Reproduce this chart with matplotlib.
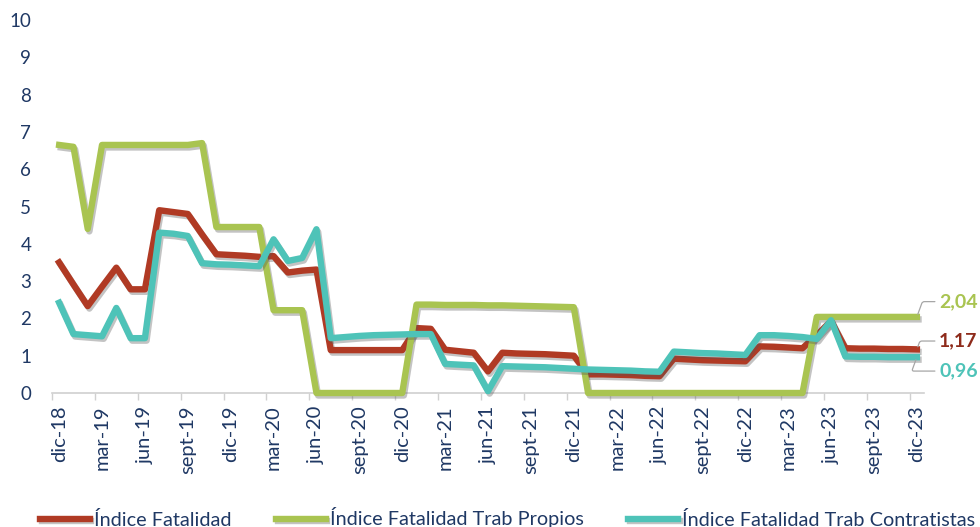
import matplotlib
matplotlib.use('Agg')
import matplotlib.pyplot as plt
import matplotlib.patheffects as pe
import numpy as np

plt.rcParams['font.family'] = ['Lato', 'DejaVu Sans']

# meses dic-18 .. dic-23 (61 puntos)
fatalidad = [3.50, 2.91, 2.33, 2.85, 3.36, 2.78, 2.78, 4.90, 4.85, 4.80,
             4.25, 3.72, 3.70, 3.68, 3.65, 3.67, 3.23, 3.28, 3.31, 1.15,
             1.15, 1.15, 1.15, 1.15, 1.15, 1.74, 1.72, 1.16, 1.12, 1.08,
             0.58, 1.08, 1.06, 1.05, 1.04, 1.02, 1.00, 0.50, 0.50, 0.49,
             0.48, 0.46, 0.45, 0.92, 0.90, 0.88, 0.87, 0.86, 0.85, 1.25,
             1.24, 1.22, 1.20, 1.55, 1.93, 1.20, 1.19, 1.19, 1.18, 1.18, 1.17]
propios = [6.65, 6.60, 4.40, 6.65, 6.65, 6.65, 6.65, 6.65, 6.65, 6.65,
           6.70, 4.45, 4.45, 4.45, 4.45, 2.22, 2.22, 2.22, 0, 0,
           0, 0, 0, 0, 0, 2.37, 2.37, 2.36, 2.36, 2.36,
           2.35, 2.35, 2.34, 2.33, 2.32, 2.31, 2.30, 0, 0, 0,
           0, 0, 0, 0, 0, 0, 0, 0, 0, 0,
           0, 0, 0, 2.04, 2.04, 2.04, 2.04, 2.04, 2.04, 2.04, 2.04]
contratistas = [2.42, 1.58, 1.55, 1.52, 2.28, 1.47, 1.47, 4.30, 4.27, 4.21,
                3.48, 3.45, 3.44, 3.42, 3.40, 4.12, 3.54, 3.62, 4.39, 1.47,
                1.50, 1.53, 1.55, 1.56, 1.57, 1.58, 1.58, 0.78, 0.76, 0.74,
                0.05, 0.72, 0.71, 0.70, 0.69, 0.67, 0.65, 0.63, 0.62, 0.61,
                0.60, 0.58, 0.57, 1.11, 1.09, 1.07, 1.06, 1.04, 1.02, 1.55,
                1.55, 1.53, 1.50, 1.45, 1.95, 0.98, 0.97, 0.97, 0.96, 0.96, 0.96]
tick_labels = ['dic-18', 'mar-19', 'jun-19', 'sept-19', 'dic-19', 'mar-20', 'jun-20',
               'sept-20', 'dic-20', 'mar-21', 'jun-21', 'sept-21', 'dic-21', 'mar-22',
               'jun-22', 'sept-22', 'dic-22', 'mar-23', 'jun-23', 'sept-23', 'dic-23']
series_names = ['Índice Fatalidad', 'Índice Fatalidad Trab Propios',
                'Índice Fatalidad Trab Contratistas']

navy = '#1F3864'
colors = ['#B03A24', '#A9C451', '#4EC3B8']
label_colors = ['#8E2B1B', '#A9C451', '#4EC3B8']
label_offsets = [6, 11, -10]   # puntos, vertical

fig = plt.figure(figsize=(9.8, 5.27), dpi=100, facecolor='white')
ax = fig.add_axes([52/980, 1-393/527, (924-52)/980, (393-20)/527])

x = np.arange(len(fatalidad))
shadow = [pe.SimpleLineShadow(offset=(1.2, -1.8), shadow_color='#555555', alpha=0.35),
          pe.Normal()]
lines = []
for vals, c, name in zip([fatalidad, propios, contratistas], colors, series_names):
    ln, = ax.plot(x, vals, color=c, lw=4.6, label=name, path_effects=shadow,
                  solid_joinstyle='round', clip_on=False, zorder=3)
    lines.append(ln)

# etiquetas finales
for vals, c, dy in zip([fatalidad, propios, contratistas], label_colors, label_offsets):
    ax.annotate(f'{vals[-1]:.2f}'.replace('.', ','), xy=(x[-1], vals[-1]),
                xytext=(16, dy), textcoords='offset points', ha='left', va='center',
                fontsize=14, fontweight='bold', color=c, annotation_clip=False,
                arrowprops=dict(arrowstyle='-', color='#A6A6A6', lw=0.9,
                                shrinkA=1, shrinkB=2,
                                connectionstyle='angle,angleA=0,angleB=70,rad=2'))

ax.set_xlim(-0.5, len(x) - 0.5)
ax.set_ylim(0, 10)
ax.set_yticks(range(0, 11))
ax.tick_params(axis='y', length=0, pad=15, labelsize=13.5, labelcolor=navy)

ax.set_xticks(np.arange(-0.5, len(x), 3))
ax.set_xticklabels([])
ax.set_xticks(np.arange(0, len(x), 3), minor=True)
ax.set_xticklabels(tick_labels, minor=True, rotation=90, va='top', ha='center')
ax.tick_params(axis='x', which='major', length=5, width=1, color='#D0D0D0', direction='out')
ax.tick_params(axis='x', which='minor', length=0, pad=9, labelsize=14.5, labelcolor=navy)

for s in ['top', 'right', 'left']:
    ax.spines[s].set_visible(False)
ax.spines['bottom'].set_color('#D0D0D0')
ax.spines['bottom'].set_linewidth(1.2)

leg = fig.legend(handles=lines, loc='center', bbox_to_anchor=(0.518, 1-518/527),
                 ncol=3, frameon=False, fontsize=14.3, handlelength=2.5,
                 handletextpad=0.2, columnspacing=2.26, borderpad=0, borderaxespad=0)
for t in leg.get_texts():
    t.set_color(navy)

fig.savefig('out.png', dpi=100, facecolor='white')
